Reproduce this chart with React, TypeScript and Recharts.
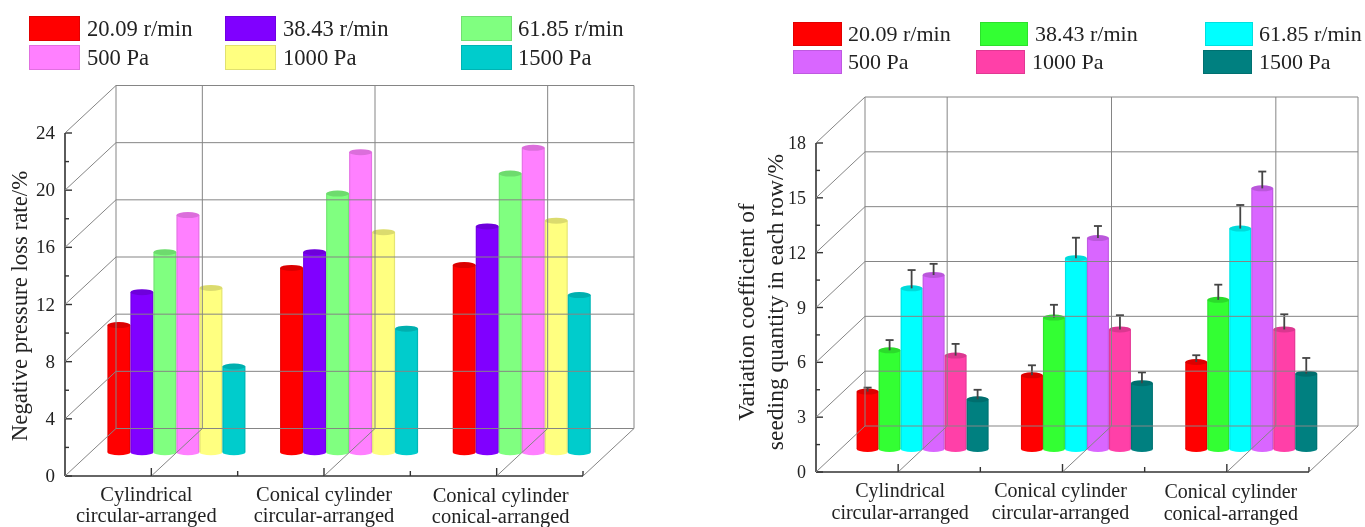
import React from "react";
import { BarChart, Bar, XAxis, YAxis } from "recharts";

const categories = ["Cylindrical|circular-arranged", "Conical cylinder|circular-arranged", "Conical cylinder|conical-arranged"];
const seriesNames = ["20.09 r/min", "38.43 r/min", "61.85 r/min", "500 Pa", "1000 Pa", "1500 Pa"];

// left panel, negative pressure loss rate
const lossLow = [8.9, 12.9, 13.1];
const lossMid = [11.2, 14.0, 15.8];
const lossHigh = [14.0, 18.1, 19.5];
const loss500 = [16.6, 21.0, 21.3];
const loss1000 = [11.5, 15.4, 16.2];
const loss1500 = [6.0, 8.65, 11.0];

// right panel, variation coefficient
const varLow = [3.14, 4.03, 4.76];
const varMid = [5.4, 7.19, 8.16];
const varHigh = [8.79, 10.44, 12.06];
const var500 = [9.52, 11.54, 14.26];
const var1000 = [5.11, 6.54, 6.54];
const var1500 = [2.72, 3.6, 4.12];

const errLow = [0.22, 0.55, 0.37];
const errMid = [0.56, 0.7, 0.83];
const errHigh = [1.0, 1.12, 1.29];
const err500 = [0.61, 0.66, 0.92];
const err1000 = [0.64, 0.78, 0.83];
const err1500 = [0.52, 0.59, 0.86];

const lossTicks = [0, 2, 4, 6, 8, 10, 12, 14, 16, 18, 20, 22, 24];
const varTicks = [0, 1.5, 3, 4.5, 6, 7.5, 9, 10.5, 12, 13.5, 15, 16.5, 18];

const lossColors = ["#ff0000", "#8000ff", "#80ff80", "#ff80ff", "#ffff80", "#00cccc"];
const varColors = ["#ff0000", "#33ff33", "#00ffff", "#d966ff", "#ff40a8", "#008080"];

const lossSeries = [lossLow, lossMid, lossHigh, loss500, loss1000, loss1500];
const varSeries = [varLow, varMid, varHigh, var500, var1000, var1500];
const varErrors = [errLow, errMid, errHigh, err500, err1000, err1500];

const buildRows = (series: number[][], errors?: number[][]) =>
  categories.map((name, i) => {
    const row: Record<string, any> = { name };
    series.forEach((s, k) => {
      row[`s${k}`] = s[i];
      if (errors) row[`e${k}`] = errors[k][i];
    });
    return row;
  });

const SERIF = '"Liberation Serif", serif';
const LINE = "#858585";
const AXIS = "#333";

const Cylinder = (props: any) => {
  const { x, y, width, height, fill, payload, index, depthX, depthY, dataKey } = props;
  const cx = x + depthX / 2 + width / 2;
  const top = y + depthY / 2;
  const left = x + depthX / 2;
  const ry = 3;
  const err = payload[`e${dataKey.slice(1)}`];
  const errPx = err ? (err * height) / payload[dataKey] : 0;
  return (
    <g key={index}>
      <ellipse cx={cx} cy={top + height} rx={width / 2} ry={ry} fill={fill} />
      <rect x={left} y={top} width={width} height={height} fill={fill} />
      <rect x={left} y={top} width={1.2} height={height} fill="#000" opacity={0.1} />
      <rect x={left + width - 1.2} y={top} width={1.2} height={height} fill="#000" opacity={0.1} />
      <ellipse cx={cx} cy={top} rx={width / 2} ry={ry} fill={fill} />
      <ellipse cx={cx} cy={top} rx={width / 2} ry={ry} fill="#000" opacity={0.14} />
      {err ? (
        <g stroke="#444" strokeWidth={1.8}>
          <line x1={cx} y1={top} x2={cx} y2={top - errPx} />
          <line x1={cx - 4} y1={top - errPx} x2={cx + 4} y2={top - errPx} />
        </g>
      ) : null}
    </g>
  );
};

const Panel = ({ width, margin, rows, colors, ticks, major, max, depthX, depthY, tickSize, nudge, baselines, yGap, title }: any) => {
  const plotW = width - margin.left - margin.right;
  const plotH = 527 - margin.top - margin.bottom;
  const band = plotW / categories.length;

  const renderY = ({ x, y, payload }: any) => {
    const v = payload.value;
    const isMajor = v % major === 0;
    const bx = x + depthX;
    const by = y + depthY;
    return (
      <g key={v}>
        <line x1={x} y1={y} x2={x + (isMajor ? 7 : 4)} y2={y} stroke={AXIS} strokeWidth={1.4} />
        {isMajor && (
          <>
            <line x1={x} y1={y} x2={bx} y2={by} stroke={LINE} />
            <line x1={bx} y1={by} x2={bx + plotW} y2={by} stroke={LINE} />
            <text x={x - yGap} y={y + 6} textAnchor="end" fontFamily={SERIF} fontSize={tickSize} fill="#222">{v}</text>
          </>
        )}
        {v === 0 && <line x1={bx} y1={by} x2={bx} y2={by - plotH} stroke={LINE} />}
      </g>
    );
  };

  const renderX = ({ x, y, payload, index }: any) => {
    const [line1, line2] = String(payload.value).split("|");
    const i = index ?? categories.indexOf(payload.value);
    const last = i === categories.length - 1;
    const edge = x + band / 2;
    const floorY = y + depthY;
    return (
      <g key={payload.value}>
        <line x1={x} y1={y} x2={x + depthX} y2={floorY} stroke={LINE} />
        <line x1={x + depthX} y1={floorY} x2={x + depthX} y2={floorY - plotH} stroke={LINE} />
        <line x1={x} y1={y} x2={x} y2={y - 8} stroke={AXIS} strokeWidth={1.4} />
        <line x1={edge} y1={y} x2={edge} y2={y - 5} stroke={AXIS} strokeWidth={1.4} />
        {last && <line x1={edge} y1={y} x2={edge + depthX} y2={floorY} stroke={LINE} />}
        {last && <line x1={edge + depthX} y1={floorY} x2={edge + depthX} y2={floorY - plotH} stroke={LINE} />}
        <g fontFamily={SERIF} fontSize={baselines.size} fill="#222" textAnchor="middle">
          <text x={x + nudge[i]} y={y + baselines.first + baselines.extra[i]}>{line1}</text>
          <text x={x + nudge[i]} y={y + baselines.second + baselines.extra[i]}>{line2}</text>
        </g>
      </g>
    );
  };

  return (
    <BarChart width={width} height={527} data={rows} margin={{ top: margin.top, right: margin.right, left: 0, bottom: 0 }} barCategoryGap="9.8%" barGap={0}>
      <XAxis dataKey="name" height={margin.bottom} interval={0} tickSize={0} tickMargin={0} tickLine={false} tick={renderX} axisLine={{ stroke: AXIS, strokeWidth: 1.6 }} zIndex={0} />
      <YAxis width={margin.left} domain={[0, max]} ticks={ticks} interval={0} tickSize={0} tickMargin={0} tickLine={false} tick={renderY} axisLine={{ stroke: AXIS, strokeWidth: 1.6 }} label={title} zIndex={0} />
      {colors.map((c: string, k: number) => (
        <Bar key={k} dataKey={`s${k}`} fill={c} isAnimationActive={false} shape={(p: any) => <Cylinder {...p} dataKey={`s${k}`} depthX={depthX} depthY={depthY} />} />
      ))}
    </BarChart>
  );
};

const Legend = ({ colors, cells, size }: any) => (
  <>
    {cells.map((cell: any, k: number) => (
      <React.Fragment key={k}>
        <div style={{ position: "absolute", left: cell.x, top: cell.y, width: cell.w, height: cell.h, background: colors[k], boxShadow: "inset 0 0 0 1px rgba(0,0,0,0.12)" }} />
        <div style={{ position: "absolute", left: cell.tx, top: cell.y, height: cell.h, lineHeight: `${cell.h}px`, fontFamily: SERIF, fontSize: size, color: "#222", whiteSpace: "nowrap" }}>
          {seriesNames[k]}
        </div>
      </React.Fragment>
    ))}
  </>
);

const lossCells = [
  { x: 29, y: 16, w: 51, h: 25, tx: 87 },
  { x: 225, y: 16, w: 51, h: 25, tx: 283 },
  { x: 461, y: 16, w: 51, h: 25, tx: 518 },
  { x: 29, y: 45, w: 51, h: 25, tx: 87 },
  { x: 225, y: 45, w: 51, h: 25, tx: 283 },
  { x: 461, y: 45, w: 51, h: 25, tx: 518 },
];
const varCells = [
  { x: 793, y: 22, w: 49, h: 24, tx: 848 },
  { x: 980, y: 22, w: 48, h: 24, tx: 1035 },
  { x: 1205, y: 22, w: 48, h: 24, tx: 1259 },
  { x: 793, y: 50, w: 49, h: 24, tx: 848 },
  { x: 976, y: 50, w: 49, h: 24, tx: 1032 },
  { x: 1203, y: 50, w: 49, h: 24, tx: 1259 },
];

const lossTitle = () => (
  <text transform="translate(27,306) rotate(-90)" textAnchor="middle" fontFamily={SERIF} fontSize={22.8} fill="#222">
    Negative pressure loss rate/%
  </text>
);
const varTitle = () => (
  <g fontFamily={SERIF} fontSize={23.5} fill="#222" textAnchor="middle">
    <text transform="translate(54,312) rotate(-90)">Variation coefficient of</text>
    <text transform="translate(83,302) rotate(-90)">seeding quantity in each row/%</text>
  </g>
);

export default function App() {
  return (
    <div style={{ position: "absolute", left: 0, top: 0, width: 1365, height: 527, overflow: "hidden", background: "#fff", filter: "blur(0.45px)" }}>
      <div style={{ position: "absolute", left: 0, top: 0 }}>
        <Panel
          width={660}
          margin={{ left: 65, right: 77, top: 133, bottom: 51 }}
          rows={buildRows(lossSeries)}
          colors={lossColors}
          ticks={lossTicks}
          major={4}
          max={24}
          depthX={51}
          depthY={-47.5}
          tickSize={19}
          yGap={10}
          nudge={[-5, 0, 4]}
          baselines={{ size: 20.5, first: 25, second: 45.5, extra: [0, 0, 1] }}
          title={{ content: lossTitle }}
        />
      </div>
      <div style={{ position: "absolute", left: 700, top: 0 }}>
        <Panel
          width={665}
          margin={{ left: 116, right: 56, top: 143, bottom: 55 }}
          rows={buildRows(varSeries, varErrors)}
          colors={varColors}
          ticks={varTicks}
          major={3}
          max={18}
          depthX={49}
          depthY={-46}
          tickSize={18}
          yGap={10}
          nudge={[2, -2, 4]}
          baselines={{ size: 20, first: 25, second: 47, extra: [0, 0, 1] }}
          title={{ content: varTitle }}
        />
      </div>
      <Legend colors={lossColors} cells={lossCells} size={22.6} />
      <Legend colors={varColors} cells={varCells} size={22} />
    </div>
  );
}
